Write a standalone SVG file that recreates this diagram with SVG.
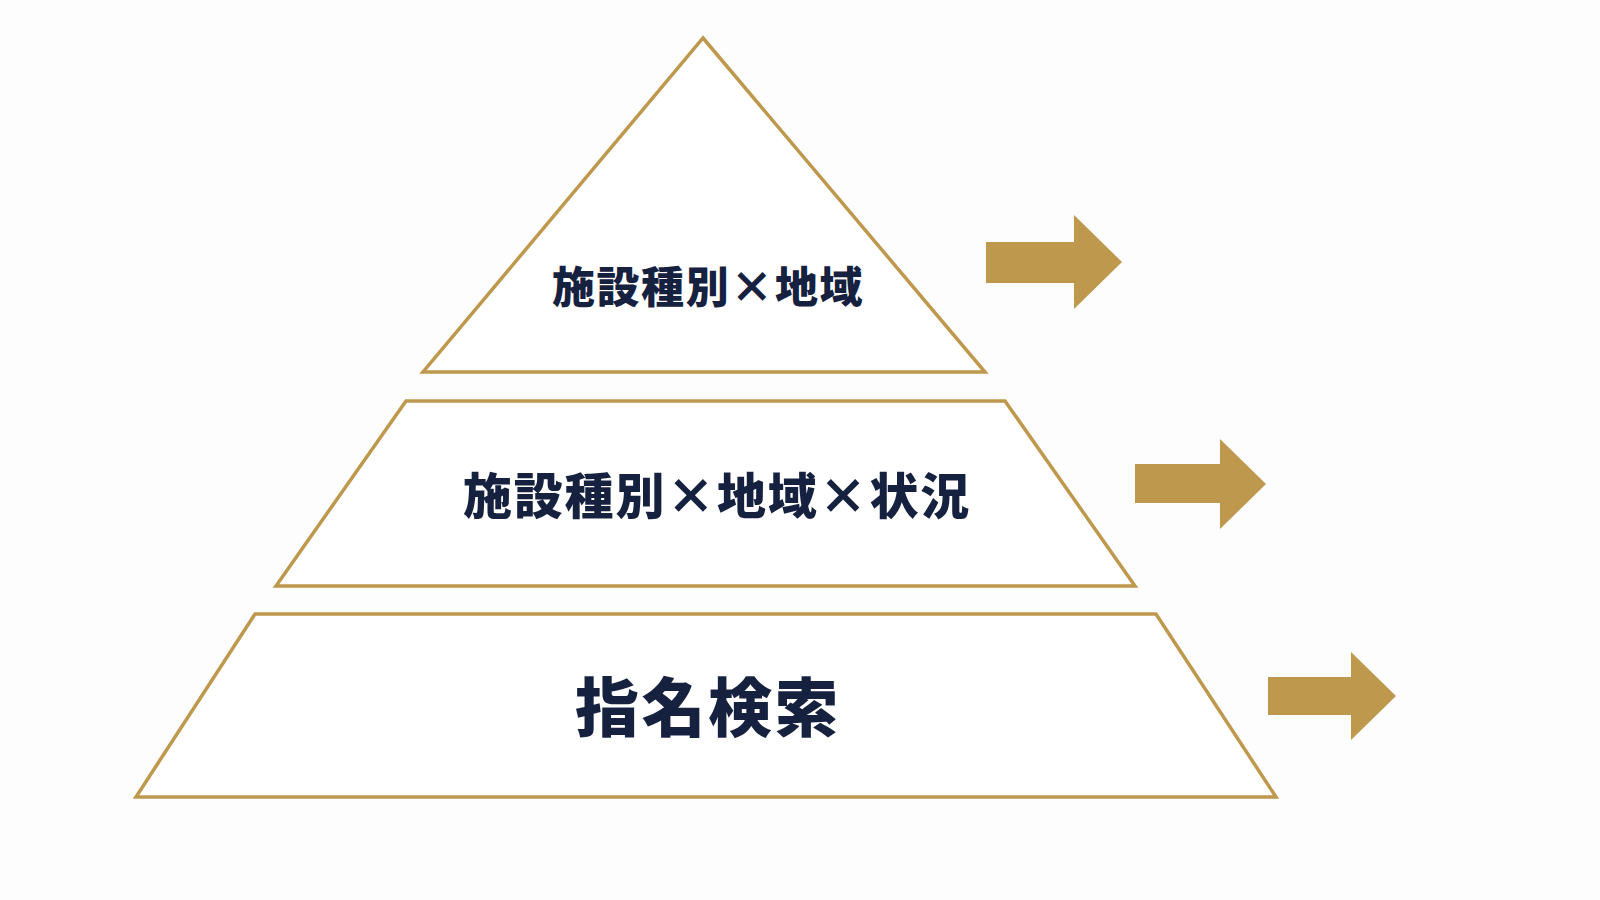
<svg xmlns="http://www.w3.org/2000/svg" width="1600" height="900" viewBox="0 0 1600 900">
<style>
.tier{fill:#ffffff;stroke:#BE984C;stroke-width:3.5;stroke-linejoin:miter}
.arrow{fill:#BE984C}
.lbl{font-family:"Noto Sans CJK JP","Noto Sans CJK SC",sans-serif;font-weight:900;fill:#15213F;text-anchor:middle}
</style>
<rect width="1600" height="900" fill="#FDFDFD"/>
<g id="tier-top">
<polygon class="tier" points="703,38 985,372 423,372"/>
<text class="lbl" x="708" y="303" font-size="43" letter-spacing="1.6">施設種別×地域</text>
</g>
<g id="tier-middle">
<polygon class="tier" points="406,401 1005,401 1135,586 276,586"/>
<text class="lbl" x="717" y="514" font-size="49" letter-spacing="1.8">施設種別×地域×状況</text>
</g>
<g id="tier-bottom">
<polygon class="tier" points="255,614 1156,614 1276,797 136,797"/>
<text class="lbl" x="708" y="731" font-size="64" letter-spacing="2.5">指名検索</text>
</g>
<g id="connectors">
<polygon class="arrow" points="986,242 1074,242 1074,215 1122,262 1074,309 1074,283 986,283"/>
<polygon class="arrow" points="1135,464 1220,464 1220,439 1266,484 1220,529 1220,503 1135,503"/>
<polygon class="arrow" points="1268,677 1351,677 1351,652 1396,696 1351,740 1351,715 1268,715"/>
</g>
</svg>
